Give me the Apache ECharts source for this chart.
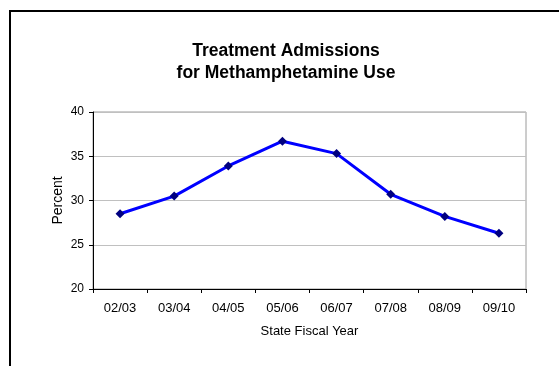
<!DOCTYPE html>
<html>
<head>
<meta charset="utf-8">
<script src="https://cdn.jsdelivr.net/npm/echarts@6/dist/echarts.min.js"></script>
<style>
html,body{margin:0;padding:0;background:#fff;}
#chart{width:559px;height:366px;}
</style>
</head>
<body>
<div id="chart"></div>
<script>
const categories = ['02/03', '03/04', '04/05', '05/06', '06/07', '07/08', '08/09', '09/10'];
const percentValues = [28.5, 30.5, 33.9, 36.7, 35.3, 30.7, 28.2, 26.3];
const titleLines = ['Treatment Admissions', 'for Methamphetamine Use'];
const xAxisTitle = 'State Fiscal Year';
const yAxisTitle = 'Percent';

const chart = echarts.init(document.getElementById('chart'), null, {renderer: 'canvas'});
const font = 'Arial, "Liberation Sans", sans-serif';
chart.setOption({
  animation: false,
  backgroundColor: '#ffffff',
  textStyle: {fontFamily: font},
  graphic: [{
    type: 'rect',
    shape: {x: 10, y: 11, width: 600, height: 400},
    style: {fill: 'none', stroke: '#000', lineWidth: 2},
    silent: true
  }],
  title: {
    text: titleLines.join('\n'),
    left: 286,
    top: 40,
    padding: 0,
    textAlign: 'center',
    textStyle: {fontFamily: font, fontSize: 17.5, fontWeight: 'bold', color: '#000', lineHeight: 22}
  },
  grid: {
    left: 93, right: 33, top: 112, bottom: 77,
    show: true, borderColor: '#9a9a9a', borderWidth: 1, backgroundColor: 'transparent'
  },
  xAxis: {
    type: 'category',
    data: categories,
    boundaryGap: true,
    name: xAxisTitle,
    nameLocation: 'middle',
    nameGap: 36,
    nameMoveOverlap: false,
    nameTextStyle: {fontFamily: font, fontSize: 13, color: '#000'},
    axisLine: {lineStyle: {color: '#000', width: 1}},
    axisTick: {show: true, length: 4, inside: false, lineStyle: {color: '#000'}},
    axisLabel: {fontFamily: font, fontSize: 13, color: '#000', margin: 13}
  },
  yAxis: {
    type: 'value',
    min: 20, max: 40, interval: 5,
    name: yAxisTitle,
    nameLocation: 'middle',
    nameGap: 28,
    nameMoveOverlap: false,
    nameTextStyle: {fontFamily: font, fontSize: 14, color: '#000'},
    axisLine: {show: true, lineStyle: {color: '#000', width: 1}},
    axisTick: {show: true, length: 4, lineStyle: {color: '#000'}},
    axisLabel: {fontFamily: font, fontSize: 12, color: '#000', margin: 9},
    splitLine: {show: true, lineStyle: {color: '#c0c0c0', width: 1}}
  },
  series: [{
    type: 'line',
    data: percentValues,
    lineStyle: {color: '#0000ff', width: 3},
    itemStyle: {color: '#000080'},
    symbol: 'diamond',
    symbolSize: 9,
    showSymbol: true
  }]
});
</script>
</body>
</html>
